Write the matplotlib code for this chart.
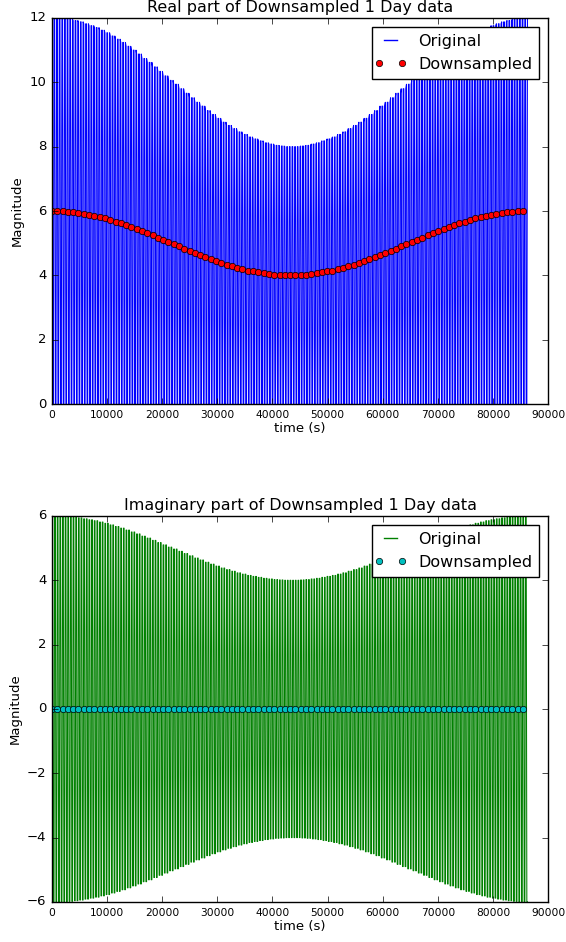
import numpy as np
import matplotlib
matplotlib.use("Agg")
import matplotlib.pyplot as plt
from matplotlib.legend_handler import HandlerLine2D

plt.style.use("classic")
plt.rcParams["font.family"] = ["DejaVu Sans"]

# Downsampled sample times (s) and magnitudes
step_down = 960
n_down = 90
t_down = np.arange(n_down) * step_down
real_down = [6.00, 6.00, 5.99, 5.98, 5.96, 5.94, 5.91, 5.88, 5.85, 5.81,
             5.77, 5.72, 5.67, 5.62, 5.56, 5.50, 5.44, 5.37, 5.31, 5.24,
             5.17, 5.10, 5.03, 4.97, 4.90, 4.83, 4.76, 4.69, 4.63, 4.56,
             4.50, 4.44, 4.38, 4.33, 4.28, 4.23, 4.19, 4.15, 4.12, 4.09,
             4.06, 4.04, 4.02, 4.01, 4.00, 4.00, 4.00, 4.01, 4.02, 4.04,
             4.06, 4.09, 4.12, 4.15, 4.19, 4.23, 4.28, 4.33, 4.38, 4.44,
             4.50, 4.56, 4.63, 4.69, 4.76, 4.83, 4.90, 4.97, 5.03, 5.10,
             5.17, 5.24, 5.31, 5.37, 5.44, 5.50, 5.56, 5.62, 5.67, 5.72,
             5.77, 5.81, 5.85, 5.88, 5.91, 5.94, 5.96, 5.98, 5.99, 6.00]
imag_down = [0.0] * n_down

# Original signal: carrier sign pattern per sample on the envelope
step_orig = 120
carrier_re = [1, -1, -1, 1]
carrier_im = [1, 1, -1, -1]
per_block = step_down // step_orig
amp = np.repeat(real_down, per_block)
n_orig = len(amp)
t_orig = np.arange(n_orig) * step_orig
c_re = np.tile(carrier_re, n_orig // 4)
c_im = np.tile(carrier_im, n_orig // 4)
real_orig = amp * (1 + c_re)
imag_orig = amp * c_im

fig = plt.figure(figsize=(5.66, 9.42), dpi=100, facecolor="white")
ax1 = fig.add_axes([0.0919, 0.5711, 0.8763, 0.4098])
ax2 = fig.add_axes([0.0919, 0.0425, 0.8763, 0.4098])

def style(ax, title, ylim, yticks, marker_line):
    ax.set_title(title, fontsize=11.5, pad=4)
    ax.set_xlim(0, 90000)
    ax.set_ylim(*ylim)
    ax.set_yticks(yticks)
    ax.set_xticks(np.arange(0, 90001, 10000))
    ax.tick_params(axis="x", labelsize=7.7, direction="in", top=True)
    ax.tick_params(axis="y", labelsize=9.5, direction="in", right=True)
    ax.set_xlabel("time (s)", fontsize=9.5, labelpad=2)
    ax.set_ylabel("Magnitude", fontsize=9.5, labelpad=4)
    ax.set_facecolor("white")
    leg = ax.legend(loc="upper right", numpoints=2, fontsize=11.5,
                    handlelength=1.45, handletextpad=1.0, borderaxespad=0.55,
                    fancybox=False, labelspacing=0.5, borderpad=0.45,
                    handler_map={marker_line: HandlerLine2D(marker_pad=0)})
    leg.get_frame().set_edgecolor("black")
    for h in leg.legend_handles[:1]:
        h.set_linewidth(1.0)

ax1.plot(t_orig, real_orig, color="b", lw=0.75, label="Original")
m1, = ax1.plot(t_down, real_down, "o", color="r", mec="k", mew=0.5, ms=4.6, label="Downsampled")
style(ax1, "Real part of Downsampled 1 Day data", (0, 12), np.arange(0, 13, 2), m1)

ax2.plot(t_orig, imag_orig, color="g", lw=0.75, label="Original")
m2, = ax2.plot(t_down, imag_down, "o", color="c", mec="k", mew=0.5, ms=4.6, label="Downsampled")
style(ax2, "Imaginary part of Downsampled 1 Day data", (-6, 6), np.arange(-6, 7, 2), m2)

fig.savefig("out.png", dpi=100, facecolor="white")
